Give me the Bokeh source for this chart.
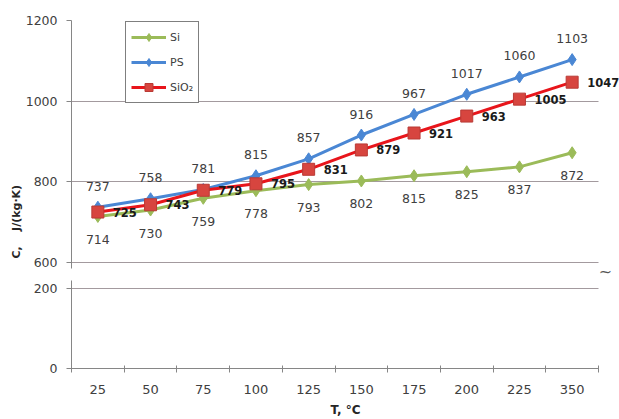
from bokeh.plotting import figure
from bokeh.models import (Range1d, FixedTicker, ColumnDataSource, LabelSet, Label,
                          Legend, LegendItem, Title)
from bokeh.layouts import column
from bokeh.embed import file_html
from bokeh.resources import INLINE
from bokeh.core.properties import value

# ---- data ----
categories = ["25", "50", "75", "100", "125", "150", "175", "200", "225", "350"]
si = [714, 730, 759, 778, 793, 802, 815, 825, 837, 872]
ps = [737, 758, 781, 815, 857, 916, 967, 1017, 1060, 1103]
sio2 = [725, 743, 779, 795, 831, 879, 921, 963, 1005, 1047]
upper_ticks = [600, 800, 1000, 1200]
lower_ticks = [0, 200]
series_names = ["Si", "PS", "SiO\u2082"]

xpos = list(range(len(categories)))
src = ColumnDataSource(dict(
    x=xpos, si=si, ps=ps, sio2=sio2,
    si_t=[str(v) for v in si], ps_t=[str(v) for v in ps], sio2_t=[str(v) for v in sio2],
))

FONT = "DejaVu Sans"
AXIS_COLOR = "#868686"
GRID_COLOR = "#a39a9e"
TXT = "#404040"
GREEN = "#9bbb59"
BLUE = "#4a87d4"
RED = "#e8151b"
SQ_FILL = "#d7453f"
SQ_LINE = "#b93a35"

n = len(categories)
cat_bounds = (-0.5, n - 0.5)
# frame runs to the right edge so that the outer labels are not clipped
xr = Range1d(-0.5, n - 0.5 + 21 / 52.7)

# ---- upper panel ----
top = figure(width=619, height=280, x_range=xr, y_range=Range1d(555.2, 1200),
             x_axis_type=None, output_backend="svg", toolbar_location=None,
             min_border_left=71, min_border_right=0, min_border_top=20,
             min_border_bottom=0)
top.outline_line_color = None


def style_y(p, ticks, bounds):
    ax = p.yaxis[0]
    ax.ticker = FixedTicker(ticks=ticks)
    ax.bounds = bounds
    ax.axis_line_color = AXIS_COLOR
    ax.major_tick_line_color = AXIS_COLOR
    ax.major_tick_out = 5
    ax.major_tick_in = 0
    ax.minor_tick_line_color = None
    ax.major_label_text_font = FONT
    ax.major_label_text_font_size = "12.5px"
    ax.major_label_text_color = TXT
    ax.major_label_standoff = 9
    p.ygrid.grid_line_color = GRID_COLOR
    p.ygrid.ticker = FixedTicker(ticks=ticks)
    p.ygrid.cross_bounds = cat_bounds


style_y(top, upper_ticks, (585, 1200))

l_si = top.line("x", "si", source=src, line_color=GREEN, line_width=3)
m_si = top.scatter("x", "si", source=src, marker="diamond", size=12,
                   fill_color=GREEN, line_color=GREEN)
l_ps = top.line("x", "ps", source=src, line_color=BLUE, line_width=3)
m_ps = top.scatter("x", "ps", source=src, marker="diamond", size=12,
                   fill_color=BLUE, line_color=BLUE)
l_s2 = top.line("x", "sio2", source=src, line_color=RED, line_width=3)
m_s2 = top.scatter("x", "sio2", source=src, marker="square", size=12,
                   fill_color=SQ_FILL, line_color=SQ_LINE, line_width=1)

top.add_layout(LabelSet(x="x", y="ps", text="ps_t", source=src, y_offset=21,
                        text_align="center", text_baseline="middle",
                        text_font=value(FONT), text_font_size="12.5px", text_color=TXT))
top.add_layout(LabelSet(x="x", y="si", text="si_t", source=src, y_offset=-23,
                        text_align="center", text_baseline="middle",
                        text_font=value(FONT), text_font_size="12.5px", text_color=TXT))
top.add_layout(LabelSet(x="x", y="sio2", text="sio2_t", source=src, x_offset=15,
                        text_align="left", text_baseline="middle",
                        text_font=value(FONT), text_font_size="11.5px",
                        text_font_style="bold", text_color="#1a1a1a"))

legend = Legend(items=[LegendItem(label=series_names[0], renderers=[l_si, m_si]),
                       LegendItem(label=series_names[1], renderers=[l_ps, m_ps]),
                       LegendItem(label=series_names[2], renderers=[l_s2, m_s2])],
                location=(54, 177), orientation="vertical",
                border_line_color="black", border_line_width=1.5,
                background_fill_color="white", background_fill_alpha=1,
                padding=5, spacing=5, margin=0,
                glyph_width=35, glyph_height=20, label_height=20, label_standoff=4,
                label_text_font=FONT, label_text_font_size="11px",
                label_text_color=TXT)
top.add_layout(legend)

top.add_layout(Title(text="C,\u00a0\u00a0\u00a0\u00a0J/(kg\u00b7K)", align="left",
                     offset=22, standoff=0,
                     text_font=FONT, text_font_size="11px", text_font_style="bold",
                     text_color="#262626"), "left")
top.add_layout(Label(x=n - 0.5 + 7 / 52.7, y=578, text="~", text_align="center",
                     text_baseline="middle", text_font=FONT, text_font_size="16px",
                     text_color="#555555"))

# ---- lower panel ----
bot = figure(width=619, height=139, x_range=xr, y_range=Range1d(0, 220),
             output_backend="svg", toolbar_location=None,
             min_border_left=71, min_border_right=0, min_border_top=0,
             min_border_bottom=51)
bot.outline_line_color = None
bot.xgrid.visible = False
style_y(bot, lower_ticks, (0, 220))

xa = bot.xaxis[0]
xa.bounds = cat_bounds
xa.ticker = FixedTicker(ticks=xpos, minor_ticks=[i - 0.5 for i in range(n + 1)])
xa.major_label_overrides = {i: c for i, c in zip(xpos, categories)}
xa.axis_line_color = AXIS_COLOR
xa.major_tick_line_color = None
xa.major_tick_out = 0
xa.major_tick_in = 0
xa.minor_tick_line_color = AXIS_COLOR
xa.minor_tick_out = 4
xa.minor_tick_in = 3
xa.major_label_text_font = FONT
xa.major_label_text_font_size = "13px"
xa.major_label_text_color = TXT
xa.major_label_standoff = 12
xa.axis_label = "T, \u00b0C"
xa.axis_label_text_font = FONT
xa.axis_label_text_font_size = "12px"
xa.axis_label_text_font_style = "bold"
xa.axis_label_text_color = "#262626"
xa.axis_label_standoff = 6

layout = column(top, bot, spacing=0)
open("out.html", "w").write(file_html(layout, INLINE))
